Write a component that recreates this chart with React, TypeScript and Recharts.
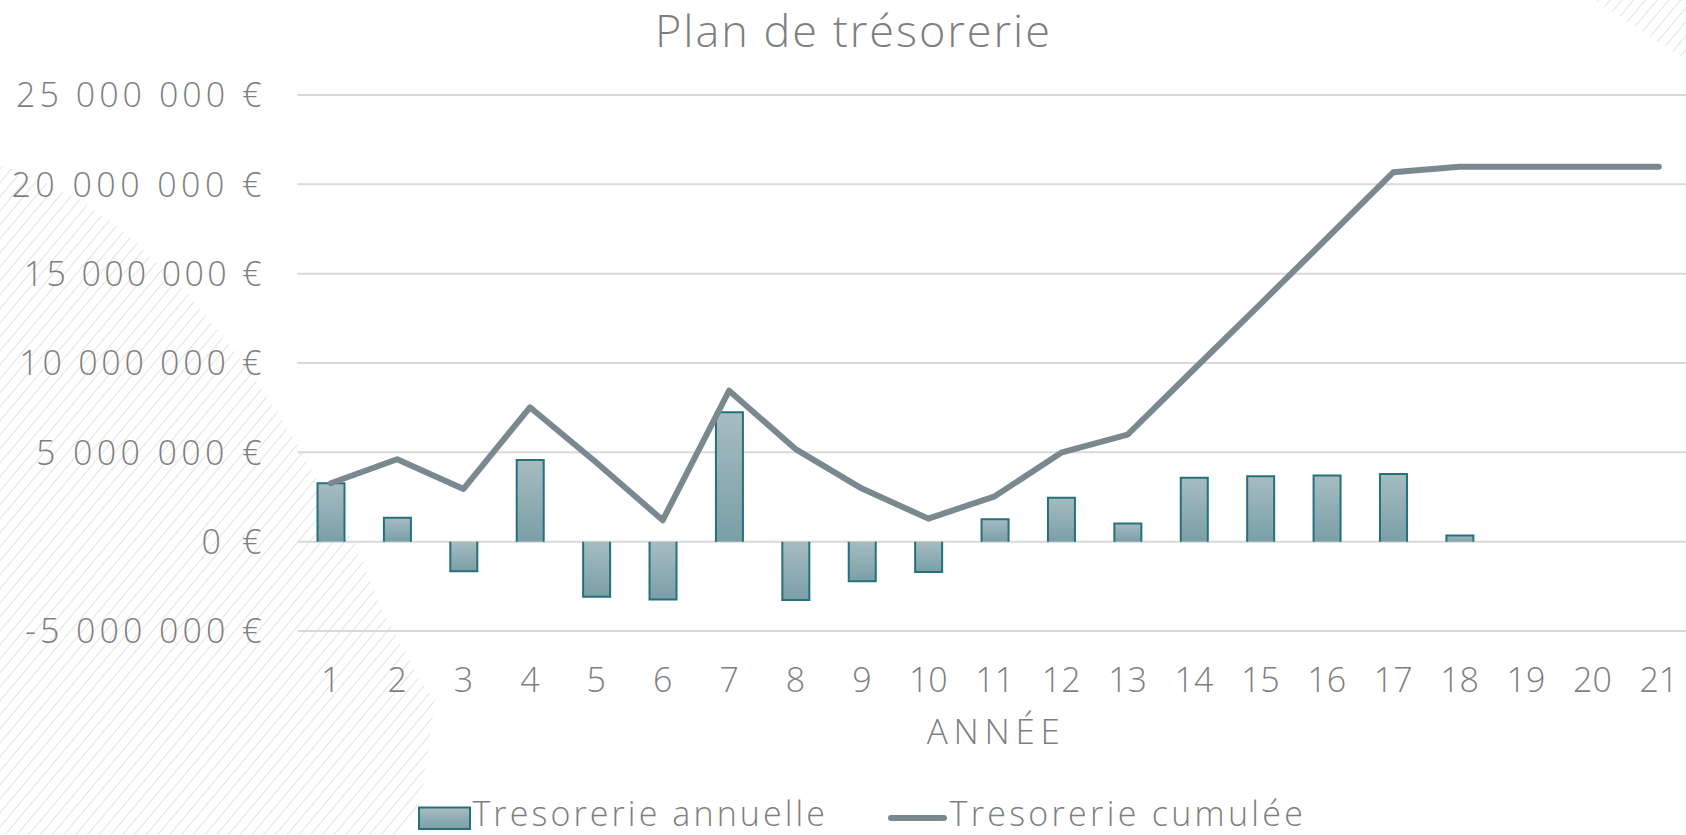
import React from 'react';
import { ComposedChart, Bar, Line, XAxis, YAxis, CartesianGrid } from 'recharts';

const years = ['1', '2', '3', '4', '5', '6', '7', '8', '9', '10', '11', '12', '13', '14', '15', '16', '17', '18', '19', '20', '21'];

// tresorerie annuelle (EUR)
const annualCash = [
  3270000, 1340000, -1660000, 4570000, -3090000, -3240000, 7240000, -3260000, -2220000, -1700000,
  1250000, 2460000, 1010000, 3580000, 3660000, 3710000, 3790000, 340000, 0, 0, 0,
];

// tresorerie cumulée (EUR)
const cumulativeCash = [
  3270000, 4610000, 2950000, 7520000, 4430000, 1200000, 8450000, 5180000, 2970000, 1290000,
  2540000, 4980000, 5990000, 9650000, 13300000, 16970000, 20670000, 20980000, 20980000, 20980000, 20980000,
];

const yTicks = [-5000000, 0, 5000000, 10000000, 15000000, 20000000, 25000000];

const chartData = years.map((year, i) => ({
  year,
  annual: annualCash[i],
  cumulative: cumulativeCash[i],
}));

const FONT = "'Open Sans', 'Lato', sans-serif";
const GREY = '#7f7f7f';
const BAR_EDGE = '#26707b';
const LINE_COLOR = '#7a8990';

const euro = (v: number) => {
  const s = Math.abs(v).toString().replace(/\B(?=(\d{3})+(?!\d))/g, ' ');
  return `${v < 0 ? '-' : ''}${s} €`;
};

// rough advance widths of the original (wide) typeface, used to stretch the label
const glyphW: Record<string, number> = { '0': 25.5, '1': 12.2, '2': 20, '5': 21, '-': 11, ' ': 8.5, '€': 26 };
const labelWidth = (s: string) => s.split('').reduce((w, c) => w + (glyphW[c] ?? 20), 0);

const YTick = ({ x, y, payload }: any) => {
  const label = euro(payload.value);
  return (
    <text
      x={x}
      y={y}
      dy="0.36em"
      textAnchor="end"
      fontSize={34}
      fontWeight={300}
      fill={GREY}
      fontFamily={FONT}
      textLength={labelWidth(label)}
      lengthAdjust="spacing"
    >
      {label}
    </text>
  );
};

const XTick = ({ x, y, payload }: any) => (
  <text x={x} y={y} dy="0.71em" textAnchor="middle" fontSize={34} fontWeight={300} fill={GREY} fontFamily={FONT}>
    {payload.value}
  </text>
);

// bar with border on three sides (no border on the zero side)
const CashBar = (props: any) => {
  const { x, y, width, height, payload } = props;
  if (!height || Math.abs(height) < 0.5) return null;
  const top = Math.min(y, y + height);
  const h = Math.abs(height);
  const l = x;
  const r = x + width;
  const b = top + h;
  const d = payload.annual >= 0
    ? `M${l},${b} L${l},${top} L${r},${top} L${r},${b}`
    : `M${l},${top} L${l},${b} L${r},${b} L${r},${top}`;
  return (
    <g>
      <rect x={l} y={top} width={width} height={h} fill="url(#barFill)" />
      <path d={d} fill="none" stroke={BAR_EDGE} strokeWidth={2} />
    </g>
  );
};

export default function App() {
  return (
    <div style={styles.page}>
      <svg width={1686} height={835} style={styles.layer}>
        <defs>
          <pattern id="hatch" width={9} height={9} patternUnits="userSpaceOnUse" patternTransform="rotate(40)">
            <line x1={0} y1={0} x2={0} y2={9} stroke="#dcdcdc" strokeWidth={1.6} />
          </pattern>
        </defs>
        <polygon
          points="0,165 40,180 80,200 126,233 187,293 250,370 300,450 353,540 384,613 420,680 435,700 421,800 403,835 0,835"
          fill="url(#hatch)"
        />
        <polygon points="1595,0 1686,0 1686,60" fill="url(#hatch)" />
      </svg>

      <div style={styles.layer}>
        <ComposedChart
          width={1686}
          height={835}
          data={chartData}
          margin={{ top: 95, right: -6, bottom: 174, left: 0 }}
        >
          <defs>
            <linearGradient id="barFill" x1="0" y1="0" x2="0" y2="1">
              <stop offset="0%" stopColor="#a6bcc1" />
              <stop offset="100%" stopColor="#7a9fa7" />
            </linearGradient>
          </defs>
          <CartesianGrid vertical={false} stroke="#d9d9d9" strokeWidth={2} />
          <XAxis
            dataKey="year"
            height={30}
            axisLine={false}
            tickLine={false}
            tickSize={0}
            tickMargin={37}
            tick={<XTick />}
            interval={0}
          />
          <YAxis
            width={297.5}
            domain={[-5000000, 25000000]}
            ticks={yTicks}
            axisLine={false}
            tickLine={false}
            tickSize={0}
            tickMargin={36}
            tick={<YTick />}
            interval={0}
          />
          <Bar dataKey="annual" barSize={27} shape={<CashBar />} isAnimationActive={false} />
          <Line
            dataKey="cumulative"
            type="linear"
            stroke={LINE_COLOR}
            strokeWidth={6}
            strokeLinecap="round"
            strokeLinejoin="round"
            dot={false}
            activeDot={false}
            isAnimationActive={false}
          />
        </ComposedChart>
      </div>

      <svg width={1686} height={835} style={{ ...styles.layer, pointerEvents: 'none' }}>
        <defs>
          <linearGradient id="legendFill" x1="0" y1="0" x2="0" y2="1">
            <stop offset="0%" stopColor="#a6bcc1" />
            <stop offset="100%" stopColor="#7a9fa7" />
          </linearGradient>
        </defs>
        <text x={852.5} y={46.7} textAnchor="middle" fontSize={45} fontWeight={300} fill={GREY} fontFamily={FONT} textLength={395} lengthAdjust="spacing">
          Plan de trésorerie
        </text>
        <text x={993.3} y={744.3} textAnchor="middle" fontSize={35} fontWeight={300} fill={GREY} fontFamily={FONT} textLength={133} lengthAdjust="spacing">
          ANNÉE
        </text>
        <rect x={419} y={807.5} width={51} height={21.5} fill="url(#legendFill)" stroke={BAR_EDGE} strokeWidth={2} />
        <text x={472.4} y={826} fontSize={34} fontWeight={300} fill={GREY} fontFamily={FONT} textLength={352.6} lengthAdjust="spacing">
          Tresorerie annuelle
        </text>
        <line x1={891} y1={818} x2={944} y2={818} stroke={LINE_COLOR} strokeWidth={6} strokeLinecap="round" />
        <text x={949.5} y={826} fontSize={34} fontWeight={300} fill={GREY} fontFamily={FONT} textLength={353.5} lengthAdjust="spacing">
          Tresorerie cumulée
        </text>
      </svg>
    </div>
  );
}

const styles: Record<string, React.CSSProperties> = {
  page: {
    position: 'absolute',
    left: 0,
    top: 0,
    width: 1686,
    height: 835,
    background: '#ffffff',
    overflow: 'hidden',
    fontFamily: FONT,
  },
  layer: {
    position: 'absolute',
    left: 0,
    top: 0,
  },
};
